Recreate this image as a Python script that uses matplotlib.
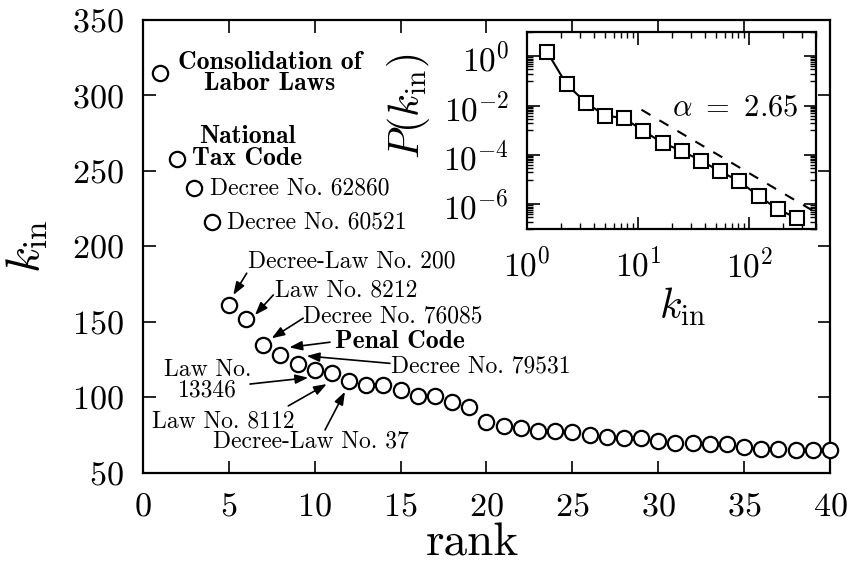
import numpy as np
import matplotlib
matplotlib.use("Agg")
import matplotlib.pyplot as plt
from matplotlib.ticker import LogLocator, NullFormatter

plt.rcParams["font.family"] = ["serif"]
plt.rcParams["font.serif"] = ["cmr10", "DejaVu Serif"]
plt.rcParams["mathtext.fontset"] = "cm"
plt.rcParams["axes.formatter.use_mathtext"] = True

# main panel: in-degree of the 40 top ranked norms
rank = np.arange(1, 41)
k_in = [315, 258, 239, 216, 161, 152, 135, 128, 122, 118,
        116, 111, 108, 108, 105, 101, 101, 97, 94, 84,
        81, 80, 78, 78, 77, 75, 74, 73, 73, 71,
        70, 70, 69, 69, 67, 66, 66, 65, 65, 65]

# inset: log-binned distribution
bin_k = [1.51, 2.26, 3.38, 5.01, 7.43, 11.1, 16.6, 24.8, 36.5, 54.5,
         81.3, 121.6, 182.4, 270.4]
bin_p = [1.52, 7.36e-2, 1.33e-2, 3.99e-3, 3.13e-3, 9.64e-4, 3.08e-4, 1.46e-4,
         5.94e-5, 2.20e-5, 8.7e-6, 2.16e-6, 6.28e-7, 2.72e-7]
alpha = 2.65
fit_k = [10.7, 400]
fit_c = 3.66

# labels without arrows: (text, x, y, ha, bold)
plain_labels = [
    ("Consolidation of\nLabor Laws", 7.36, 315, "center", True),
    ("National\nTax Code", 6.06, 265.6, "center", True),
    ("Decree No. 62860", 3.9, 238.7, "left", False),
    ("Decree No. 60521", 4.87, 215.8, "left", False),
]
# labels with arrows: (text, text x, text y, tail x, tail y, head x, head y, bold)
arrow_labels = [
    ("Decree-Law No. 200", 12.14, 189.9, 6.04, 182.3, 5.26, 167.9, False),
    ("Law No. 8212", 11.81, 171.2, 7.59, 167.9, 6.52, 154.6, False),
    ("Decree No. 76085", 14.53, 154.0, 9.33, 152.5, 7.49, 139.2, False),
    ("Penal Code", 14.96, 137.0, 10.89, 136.6, 8.52, 133.2, True),
    ("Decree No. 79531", 19.65, 120.4, 14.38, 122.6, 9.53, 127.5, False),
    ("Law No.\n13346", 3.76, 111.6, 6.23, 108.9, 9.62, 113.1, False),
    ("Law No. 8112", 4.68, 84.0, 8.46, 94.4, 10.70, 108.9, False),
    ("Decree-Law No. 37", 9.77, 70.7, 10.60, 78.5, 11.76, 103.8, False),
]

fig = plt.figure(figsize=(8.47, 5.68), dpi=100)
ax = fig.add_axes([0.1688, 0.1673, 0.8111, 0.7975])

ax.plot(rank, k_in, "o", ms=11, mfc="white", mec="black", mew=1.6,
        clip_on=False, zorder=3)
ax.set_xlim(0, 40)
ax.set_ylim(50, 350)
ax.set_xticks(np.arange(0, 41, 5))
ax.set_yticks(np.arange(50, 351, 50))
ax.tick_params(direction="in", length=9, width=1.2, top=True, right=True,
               labelsize=24.5, pad=14)
for s in ax.spines.values():
    s.set_linewidth(1.6)
ax.set_xlabel("rank", fontsize=34)
ax.xaxis.set_label_coords(0.479, -0.11)
ax.set_ylabel(r"$k_{\rm in}$", fontsize=34)
ax.yaxis.set_label_coords(-0.135, 0.5)

for text, x, y, ha, bold in plain_labels:
    ax.text(x, y, text, ha=ha, va="center", fontsize=18.5 if bold else 17,
            family="cmb10" if bold else "cmr10", multialignment="center",
            linespacing=0.9)

for text, tx, ty, x0, y0, x1, y1, bold in arrow_labels:
    ax.text(tx, ty, text, ha="center", va="center",
            fontsize=18.5 if bold else 17,
            family="cmb10" if bold else "cmr10", multialignment="center",
            linespacing=0.9)
    ax.annotate("", xy=(x1, y1), xytext=(x0, y0),
                arrowprops=dict(arrowstyle="-|>,head_length=0.55,head_width=0.2",
                                mutation_scale=14, lw=1.2, color="black",
                                shrinkA=0, shrinkB=0))

# inset
axi = fig.add_axes([0.6225, 0.5968, 0.3409, 0.3474])
axi.plot(bin_k, bin_p, "s-", color="black", lw=1.5, ms=10, mfc="white",
         mec="black", mew=1.5, zorder=3)
fk = np.array(fit_k)
axi.plot(fk, fit_c * fk ** (-alpha), "--", color="black", lw=1.5,
         dashes=(5, 5))
axi.set_xscale("log")
axi.set_yscale("log")
axi.set_xlim(1, 400)
axi.set_ylim(1e-7, 1e1)
axi.set_yticks([1, 1e-2, 1e-4, 1e-6])
axi.yaxis.set_minor_locator(LogLocator(base=100.0, subs=np.arange(1, 10) / 10,
                                       numticks=50))
axi.yaxis.set_minor_formatter(NullFormatter())
axi.xaxis.set_major_locator(LogLocator(base=10.0, numticks=10))
axi.xaxis.set_minor_locator(LogLocator(base=10.0, subs=np.arange(2, 10),
                                       numticks=50))
axi.xaxis.set_minor_formatter(NullFormatter())
axi.tick_params(which="both", direction="in", top=True, right=True,
                labelsize=24)
axi.tick_params(which="major", length=9, width=1.2, pad=13)
axi.tick_params(which="minor", length=4.5, width=1.0)
for s in axi.spines.values():
    s.set_linewidth(1.6)
axi.set_xlabel(r"$k_{\rm in}$", fontsize=30)
axi.xaxis.set_label_coords(0.54, -0.29)
axi.set_ylabel(r"$P(k_{\rm in})$", fontsize=30)
axi.yaxis.set_label_coords(-0.33, 0.62)
axi.text(20.0, 7.9e-3, r"$\alpha\ =\ 2.65$", fontsize=22, ha="left",
         va="center")

fig.savefig("out.png", dpi=100)
